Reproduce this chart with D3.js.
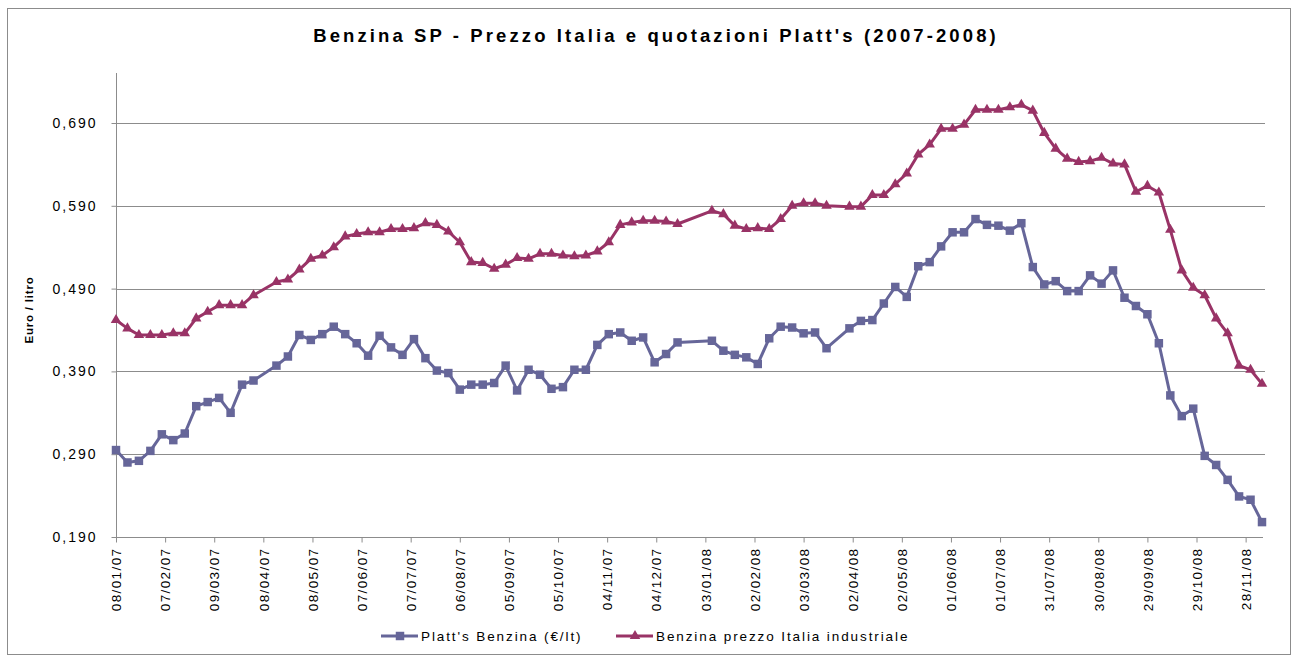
<!DOCTYPE html>
<html>
<head>
  <meta charset="UTF-8">
  <style>
    body { margin: 0; background: #fff; }
    svg text { font-family: "Liberation Sans", Arial, sans-serif; fill: #000; }
    .grid line { stroke: #8c8c8c; stroke-width: 1px; }
  </style>
</head>
<body>
<svg></svg>
<script src="https://d3js.org/d3.v7.min.js"></script>
<script>

// weekly dates (holidays missing)
let dates = [
  "2007-01-08","2007-01-15","2007-01-22","2007-01-29","2007-02-05","2007-02-12","2007-02-19","2007-02-26",
  "2007-03-05","2007-03-12","2007-03-19","2007-03-26","2007-04-02","2007-04-16","2007-04-23","2007-04-30",
  "2007-05-07","2007-05-14","2007-05-21","2007-05-28","2007-06-04","2007-06-11","2007-06-18","2007-06-25",
  "2007-07-02","2007-07-09","2007-07-16","2007-07-23","2007-07-30","2007-08-06","2007-08-13","2007-08-20",
  "2007-08-27","2007-09-03","2007-09-10","2007-09-17","2007-09-24","2007-10-01","2007-10-08","2007-10-15",
  "2007-10-22","2007-10-29","2007-11-05","2007-11-12","2007-11-19","2007-11-26","2007-12-03","2007-12-10",
  "2007-12-17","2008-01-07","2008-01-14","2008-01-21","2008-01-28","2008-02-04","2008-02-11","2008-02-18",
  "2008-02-25","2008-03-03","2008-03-10","2008-03-17","2008-03-31","2008-04-07","2008-04-14","2008-04-21",
  "2008-04-28","2008-05-05","2008-05-12","2008-05-19","2008-05-26","2008-06-02","2008-06-09","2008-06-16",
  "2008-06-23","2008-06-30","2008-07-07","2008-07-14","2008-07-21","2008-07-28","2008-08-04","2008-08-11",
  "2008-08-18","2008-08-25","2008-09-01","2008-09-08","2008-09-15","2008-09-22","2008-09-29","2008-10-06",
  "2008-10-13","2008-10-20","2008-10-27","2008-11-03","2008-11-10","2008-11-17","2008-11-24","2008-12-01",
  "2008-12-08"
];

let platts = [
  0.295,0.280,0.282,0.294,0.314,0.307,0.315,0.348,0.353,0.358,0.340,0.374,0.379,
  0.397,0.408,0.434,0.428,0.435,0.444,0.435,0.424,0.409,0.433,0.419,0.410,0.429,0.406,0.391,0.388,
  0.368,0.374,0.374,0.376,0.397,0.367,0.392,0.386,0.369,0.371,0.392,0.392,0.422,0.435,0.437,0.427,
  0.431,0.401,0.411,0.425,
  0.427,0.415,0.410,0.407,0.399,0.430,0.444,0.443,0.436,0.437,0.418,
  0.442,0.451,0.452,0.472,0.492,0.480,0.517,0.522,0.541,0.558,0.558,0.574,0.567,0.566,0.560,0.569,
  0.516,0.495,0.499,0.487,0.487,0.506,0.496,0.512,0.479,0.469,0.459,0.424,0.361,0.336,0.345,0.288,
  0.277,0.259,0.239,0.235,0.208
];

let italia = [
  0.452,0.442,0.434,0.434,0.434,0.436,0.436,0.454,0.462,0.470,0.470,0.470,0.482,
  0.498,0.501,0.513,0.526,0.530,0.540,0.553,0.556,0.558,0.558,0.562,0.562,0.563,0.569,0.567,0.559,
  0.546,0.522,0.521,0.514,0.519,0.527,0.526,0.532,0.532,0.530,0.529,0.530,0.535,0.546,0.567,0.570,
  0.572,0.572,0.571,0.568,
  0.584,0.580,0.566,0.562,0.563,0.562,0.574,0.590,0.593,0.593,0.590,
  0.589,0.589,0.603,0.603,0.616,0.629,0.652,0.664,0.683,0.683,0.688,0.706,0.706,0.706,0.709,0.712,
  0.705,0.678,0.659,0.647,0.643,0.644,0.648,0.641,0.640,0.607,0.614,0.606,0.561,0.512,0.491,0.482,
  0.454,0.436,0.397,0.392,0.375
];

let tickLabels = ["08/01/07","07/02/07","09/03/07","08/04/07","08/05/07","07/06/07","07/07/07","06/08/07",
  "05/09/07","05/10/07","04/11/07","04/12/07","03/01/08","02/02/08","03/03/08","02/04/08","02/05/08",
  "01/06/08","01/07/08","31/07/08","30/08/08","29/09/08","29/10/08","28/11/08"];

let yTicks = [0.19, 0.29, 0.39, 0.49, 0.59, 0.69];

let seriesNames = ["Platt's Benzina (\u20ac/lt)", "Benzina prezzo Italia industriale"];
let colors = ["#666699", "#993366"];

let width = 1298, height = 657;
let parseIso = d3.timeParse("%Y-%m-%d");
let parseTick = d3.timeParse("%d/%m/%y");
let fmtTick = d3.timeFormat("%d/%m/%y");

let svg = d3.select("svg").attr("width", width).attr("height", height);

// chart border
svg.append("rect")
  .attr("x", 7.5).attr("y", 8.5)
  .attr("width", 1283).attr("height", 646)
  .attr("fill", "none").attr("stroke", "#8c8c8c");

let x = d3.scaleTime()
  .domain([parseIso(dates[0]), parseIso(dates[dates.length - 1])])
  .range([116, 1262]);

let y = d3.scaleLinear()
  .domain([0.19, 0.7504])
  .range([537, 73]);

// gridlines
svg.append("g").attr("class", "grid")
  .selectAll("line")
  .data(yTicks.slice(1))
  .enter().append("line")
  .attr("x1", 116).attr("x2", 1265)
  .attr("y1", d => Math.round(y(d)) + 0.5)
  .attr("y2", d => Math.round(y(d)) + 0.5);

// y axis
let yAxis = svg.append("g")
  .attr("transform", "translate(116.5,0)")
  .call(d3.axisLeft(y).tickValues(yTicks).tickSize(5).tickPadding(14)
    .tickFormat(d => d3.format(".3f")(d).replace(".", ",")));
yAxis.select(".domain").attr("stroke", "#8c8c8c").attr("d", "M0,73V537.5");
yAxis.selectAll(".tick line").attr("stroke", "#8c8c8c");
yAxis.selectAll("text")
  .style("font-size", "14px").style("letter-spacing", "2px");

// x axis
let xAxis = svg.append("g")
  .attr("transform", "translate(0,537.5)")
  .call(d3.axisBottom(x).tickValues(tickLabels.map(parseTick)).tickSize(5).tickFormat(fmtTick));
xAxis.select(".domain").attr("stroke", "#8c8c8c").attr("d", "M116,0H1263");
xAxis.selectAll(".tick line").attr("stroke", "#8c8c8c");
xAxis.selectAll("text")
  .attr("transform", "rotate(-90)")
  .attr("x", -10).attr("y", 0).attr("dy", "0.35em")
  .style("text-anchor", "end")
  .style("font-size", "13.5px").style("letter-spacing", "1.4px");

// title
svg.append("text")
  .attr("x", 656).attr("y", 42)
  .attr("text-anchor", "middle")
  .style("font-size", "18.5px").style("font-weight", "bold").style("letter-spacing", "3.1px")
  .text("Benzina SP - Prezzo Italia e quotazioni Platt's (2007-2008)");

// y label
svg.append("text")
  .attr("transform", "translate(33,310) rotate(-90)")
  .attr("text-anchor", "middle")
  .style("font-size", "11.5px").style("font-weight", "bold").style("letter-spacing", "0.8px")
  .text("Euro / litro");

let series = [platts, italia].map((vals, i) => ({
  name: seriesNames[i],
  color: colors[i],
  shape: i == 0 ? d3.symbolSquare : d3.symbolTriangle,
  values: vals.map((v, j) => ({date: parseIso(dates[j]), value: v}))
}));

let line = d3.line().x(d => x(d.date)).y(d => y(d.value));

series.forEach(s => {
  let g = svg.append("g");
  g.append("path")
    .datum(s.values)
    .attr("fill", "none")
    .attr("stroke", s.color)
    .attr("stroke-width", 3)
    .attr("stroke-linejoin", "round")
    .attr("d", line);
  g.selectAll("path.mk")
    .data(s.values)
    .enter().append("path")
    .attr("class", "mk")
    .attr("d", d3.symbol().type(s.shape).size(s.shape == d3.symbolSquare ? 72 : 48))
    .attr("transform", d => "translate(" + x(d.date) + "," + y(d.value) + ")")
    .attr("fill", s.color);
});

// legend
let legendPos = [[381, 421], [616, 656]];
series.forEach((s, i) => {
  let lg = svg.append("g").attr("transform", "translate(0,636)");
  lg.append("line")
    .attr("x1", legendPos[i][0]).attr("x2", legendPos[i][1] - 3)
    .attr("stroke", s.color).attr("stroke-width", 3);
  lg.append("path")
    .attr("d", d3.symbol().type(s.shape).size(s.shape == d3.symbolSquare ? 72 : 48))
    .attr("transform", "translate(" + (legendPos[i][0] + 19) + ",0)")
    .attr("fill", s.color);
  lg.append("text")
    .attr("x", legendPos[i][1]).attr("y", 0).attr("dy", "0.35em")
    .style("font-size", "13.5px").style("letter-spacing", "1.9px")
    .text(s.name);
});

</script>
</body>
</html>
